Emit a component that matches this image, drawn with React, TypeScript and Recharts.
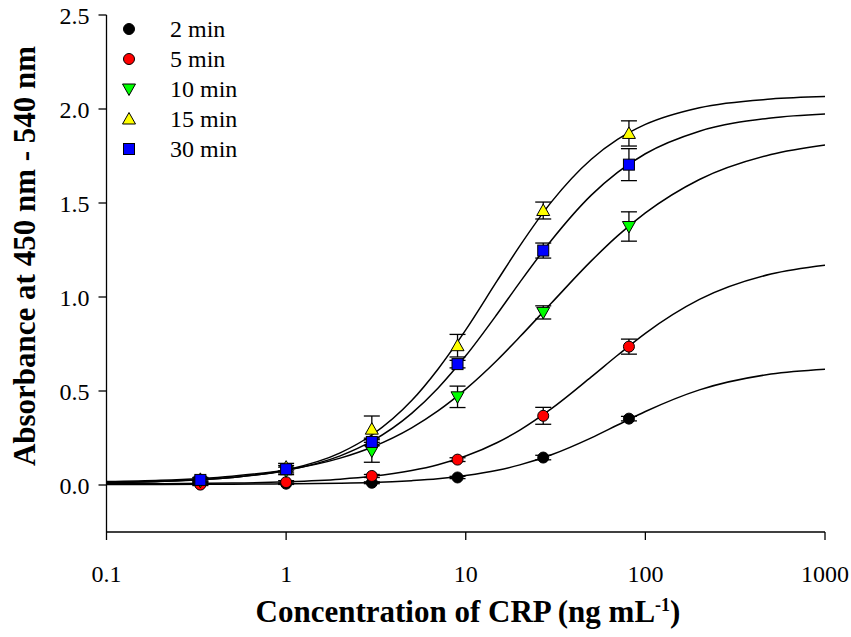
import { ComposedChart, Line, Scatter, ErrorBar, XAxis, YAxis } from 'recharts';

const FONT = '"Liberation Serif", "Times New Roman", Times, serif';

// measured concentrations of CRP (ng/mL), 3-fold dilutions
const concentrations = [0.333, 1, 3, 9, 27, 81];

// mean absorbance and error for each incubation time
const abs2min = [0.005, 0.007, 0.012, 0.04, 0.146, 0.353];
const err2min = [0.004, 0.004, 0.005, 0.006, 0.012, 0.012];
const abs5min = [0.002, 0.015, 0.048, 0.135, 0.368, 0.736];
const err5min = [0.005, 0.008, 0.008, 0.01, 0.045, 0.04];
const abs10min = [0.02, 0.075, 0.181, 0.469, 0.918, 1.375];
const err10min = [0.006, 0.02, 0.06, 0.057, 0.035, 0.078];
const abs15min = [0.03, 0.095, 0.297, 0.741, 1.46, 1.87];
const err15min = [0.01, 0.02, 0.07, 0.06, 0.045, 0.067];
const abs30min = [0.027, 0.084, 0.229, 0.643, 1.247, 1.704];
const err30min = [0.01, 0.02, 0.02, 0.02, 0.04, 0.085];

// fitted curves at these concentrations
const curveX = [0.1, 0.2, 0.5, 1, 2, 3, 5, 7, 10, 15, 20, 30, 50, 70, 100, 200, 500, 1000];
const fit2min = [0.003, 0.003, 0.004, 0.006, 0.009, 0.013, 0.023, 0.033, 0.05, 0.078, 0.107, 0.161, 0.251, 0.319, 0.391, 0.506, 0.59, 0.616];
const fit5min = [0.006, 0.007, 0.01, 0.017, 0.031, 0.046, 0.077, 0.108, 0.154, 0.226, 0.292, 0.406, 0.575, 0.69, 0.807, 0.987, 1.122, 1.169];
const fit10min = [0.018, 0.025, 0.047, 0.08, 0.143, 0.201, 0.304, 0.394, 0.51, 0.665, 0.788, 0.968, 1.192, 1.325, 1.447, 1.625, 1.758, 1.809];
const fit15min = [0.014, 0.019, 0.04, 0.08, 0.171, 0.266, 0.449, 0.616, 0.825, 1.088, 1.272, 1.506, 1.733, 1.838, 1.918, 2.007, 2.053, 2.066];
const fit30min = [0.015, 0.02, 0.04, 0.077, 0.155, 0.233, 0.381, 0.515, 0.687, 0.911, 1.078, 1.302, 1.542, 1.663, 1.762, 1.882, 1.952, 1.973];

const xTicks = [0.1, 1, 10, 100, 1000];
const yTicks = [0, 0.5, 1, 1.5, 2, 2.5];

type Kind = 'circle' | 'down' | 'up' | 'square';

const series = [
  { name: '2 min', values: abs2min, errors: err2min, fit: fit2min, fill: '#000000', kind: 'circle' as Kind },
  { name: '5 min', values: abs5min, errors: err5min, fit: fit5min, fill: '#ff0000', kind: 'circle' as Kind },
  { name: '10 min', values: abs10min, errors: err10min, fit: fit10min, fill: '#00ff00', kind: 'down' as Kind },
  { name: '15 min', values: abs15min, errors: err15min, fit: fit15min, fill: '#ffff00', kind: 'up' as Kind },
  { name: '30 min', values: abs30min, errors: err30min, fit: fit30min, fill: '#0000ff', kind: 'square' as Kind },
];

function toPoints(ys: number[], errs: number[]) {
  return concentrations.map((x, i) => ({ x, y: ys[i], err: errs[i] }));
}

function toCurve(ys: number[]) {
  return curveX.map((x, i) => ({ x, y: ys[i] }));
}

function Marker({ cx, cy, kind, fill }: { cx: number; cy: number; kind: Kind; fill: string }) {
  if (cx == null || cy == null) return null;
  const stroke = { stroke: '#000', strokeWidth: 1 };
  if (kind === 'circle') return <circle cx={cx} cy={cy} r={5.5} fill={fill} {...stroke} />;
  if (kind === 'square') return <rect x={cx - 5.5} y={cy - 5.5} width={11} height={11} fill={fill} {...stroke} />;
  if (kind === 'down')
    return <polygon points={`${cx - 6.5},${cy - 5} ${cx + 6.5},${cy - 5} ${cx},${cy + 6.5}`} fill={fill} {...stroke} />;
  return <polygon points={`${cx - 6.5},${cy + 5} ${cx + 6.5},${cy + 5} ${cx},${cy - 6.5}`} fill={fill} {...stroke} />;
}

function LegendBox() {
  return (
    <div style={{ position: 'absolute', left: 118, top: 14, fontFamily: FONT, fontSize: 24 }}>
      {series.map((s) => (
        <div key={s.name} style={{ display: 'flex', alignItems: 'center', height: 30 }}>
          <svg width={22} height={22} style={{ display: 'block' }}>
            <Marker cx={11} cy={11} kind={s.kind} fill={s.fill} />
          </svg>
          <span style={{ marginLeft: 30, lineHeight: '30px' }}>{s.name}</span>
        </div>
      ))}
    </div>
  );
}

const tickStyle = { fill: '#000', fontSize: 24, fontFamily: FONT };

export default function App() {
  return (
    <div style={{ position: 'relative', width: 851, height: 637, background: '#fff' }}>
      <style>{'body { margin: 0; }'}</style>
      <ComposedChart width={851} height={637} margin={{ top: 15, right: 26, bottom: 45, left: 0 }}>
        <XAxis
          type="number"
          dataKey="x"
          scale="log"
          domain={[0.1, 1000]}
          ticks={xTicks}
          allowDataOverflow
          tickFormatter={(v: number) => String(v)}
          tick={tickStyle}
          tickSize={8}
          tickMargin={25}
          height={60}
          axisLine={{ stroke: '#000', strokeWidth: 1.3 }}
          tickLine={{ stroke: '#000', strokeWidth: 1.3 }}
        />
        <YAxis
          type="number"
          dataKey="y"
          domain={[-0.25, 2.5]}
          ticks={yTicks}
          allowDataOverflow
          tickFormatter={(v: number) => v.toFixed(1)}
          tick={tickStyle}
          tickSize={8}
          tickMargin={9}
          width={106.5}
          axisLine={{ stroke: '#000', strokeWidth: 1.3 }}
          tickLine={{ stroke: '#000', strokeWidth: 1.3 }}
        />
        {series.map((s) => (
          <Scatter
            key={s.name}
            name={s.name}
            data={toPoints(s.values, s.errors)}
            isAnimationActive={false}
            shape={(p: any) => <Marker cx={p.cx} cy={p.cy} kind={s.kind} fill={s.fill} />}
          >
            <ErrorBar dataKey="err" direction="y" width={8} stroke="#000" strokeWidth={1.3} />
          </Scatter>
        ))}
        {series.map((s) => (
          <Line
            key={'fit-' + s.name}
            data={toCurve(s.fit)}
            dataKey="y"
            type="monotone"
            stroke="#000"
            strokeWidth={1.5}
            dot={false}
            activeDot={false}
            legendType="none"
            isAnimationActive={false}
          />
        ))}
      </ComposedChart>
      <LegendBox />
      <div
        style={{
          position: 'absolute',
          left: 25,
          top: 256,
          transform: 'translate(-50%, -50%) rotate(-90deg)',
          whiteSpace: 'nowrap',
          fontFamily: FONT,
          fontWeight: 'bold',
          fontSize: 31,
        }}
      >
        Absorbance at 450 nm - 540 nm
      </div>
      <div
        style={{
          position: 'absolute',
          left: 468,
          top: 612,
          transform: 'translate(-50%, -50%)',
          whiteSpace: 'nowrap',
          fontFamily: FONT,
          fontWeight: 'bold',
          fontSize: 31,
        }}
      >
        Concentration of CRP (ng mL<sup style={{ fontSize: 18 }}>-1</sup>)
      </div>
    </div>
  );
}
